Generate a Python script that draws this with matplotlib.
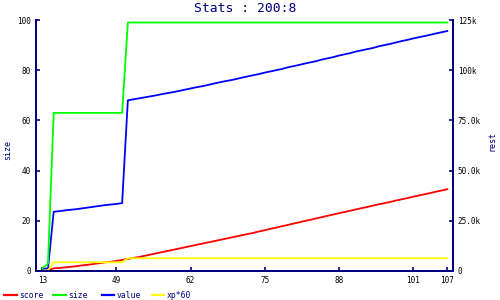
import numpy as np
import matplotlib
matplotlib.use("Agg")
import matplotlib.pyplot as plt
from matplotlib.lines import Line2D

title = "Stats : 200:8"
tick_pos = [0, 13, 26, 39, 52, 65, 71]
tick_labels = ["13", "49", "62", "75", "88", "101", "107"]

# size (left axis, 0..100)
size = [1, 3] + [63] * 13 + [99] * 57

# value (right axis, k)
value_k = [1.2, 1.2, 29.5, 29.8, 30.2, 30.5, 30.8, 31.2, 31.6, 32.0, 32.4, 32.8, 33.1, 33.4, 33.8,
           85.0, 85.5, 86.0, 86.5, 87.0, 87.5, 88.1, 88.6, 89.1, 89.7, 90.3, 90.9, 91.5, 92.0,
           92.6, 93.3, 93.9, 94.5, 95.0, 95.6, 96.3, 96.9, 97.5, 98.1, 98.8, 99.4, 100.0, 100.6,
           101.4, 102.0, 102.6, 103.3, 103.9, 104.5, 105.3, 105.9, 106.5, 107.3, 107.9, 108.5,
           109.3, 109.9, 110.5, 111.1, 111.9, 112.5, 113.1, 113.8, 114.5, 115.1, 115.8, 116.4,
           117.0, 117.6, 118.3, 118.9, 119.5]

# score (right axis, k)
score_k = [0.0, 0.3, 1.3, 1.5, 1.8, 2.1, 2.4, 2.8, 3.1, 3.5, 3.9, 4.3, 4.6, 5.0, 5.5, 6.0, 6.5, 7.0,
           7.6, 8.2, 8.8, 9.4, 10.0, 10.6, 11.2, 11.8, 12.4, 13.0, 13.6, 14.2, 14.8, 15.4, 16.0,
           16.6, 17.2, 17.8, 18.4, 19.0, 19.7, 20.3, 21.0, 21.6, 22.3, 22.9, 23.6, 24.2, 24.9,
           25.5, 26.2, 26.8, 27.5, 28.1, 28.8, 29.4, 30.0, 30.7, 31.3, 31.9, 32.6, 33.2, 33.8,
           34.4, 35.1, 35.7, 36.3, 37.0, 37.6, 38.2, 38.8, 39.5, 40.1, 40.7]

# xp*60 (right axis, k)
xp_k = [0.0, 0.3] + [4.35] * 13 + [6.35] * 57

left_ticks = [0, 20, 40, 60, 80, 100]
right_ticks_k = [0, 25, 50, 75, 100, 125]
right_tick_labels = ["0", "25.0k", "50.0k", "75.0k", "100k", "125k"]

navy = "#000080"
mono = "DejaVu Sans Mono"

fig = plt.figure(figsize=(5, 3), dpi=100)
ax = fig.add_axes([36/500, 29/300, 417/500, 251/300])
ax2 = ax.twinx()

x = np.arange(len(size))
lw = 1.3
ax2.plot(x, np.array(value_k) * 1000, color="#0000ff", lw=lw, zorder=2)
ax2.plot(x, np.array(score_k) * 1000, color="#ff0000", lw=lw, zorder=3)
ax2.plot(x, np.array(xp_k) * 1000, color="#ffff00", lw=lw, zorder=4)
ax.plot(x, size, color="#00ff00", lw=lw)
ax.set_zorder(ax2.get_zorder() + 1)
ax.patch.set_visible(False)

ax.set_xlim(-1.1, 72)
ax.set_ylim(0, 100)
ax2.set_ylim(0, 125000)

ax.set_xticks(tick_pos)
ax.set_xticklabels(tick_labels)
ax.set_yticks(left_ticks)
ax.set_yticklabels([str(t) for t in left_ticks])
ax2.set_yticks([t * 1000 for t in right_ticks_k])
ax2.set_yticklabels(right_tick_labels)

for a in (ax, ax2):
    for s in a.spines.values():
        s.set_color(navy)
        s.set_linewidth(1.3)
    a.spines["top"].set_visible(False)
    a.tick_params(direction="in", length=3, width=1.2, color=navy, labelsize=5.5,
                  labelcolor="black", pad=3.5)
    for lab in a.get_xticklabels() + a.get_yticklabels():
        lab.set_family(mono)

fig.text(0.49, 0.973, title, ha="center", va="center", color=navy, family=mono, fontsize=9.4)
fig.text(8/500, 1 - 150/300, "size", rotation=90, ha="center", va="center", color=navy,
         family=mono, fontsize=6)
fig.text(492/500, 1 - 141/300, "rest", rotation=90, ha="center", va="center", color=navy,
         family=mono, fontsize=6)

legend_items = [("score", "#ff0000"), ("size", "#00ff00"), ("value", "#0000ff"), ("xp*60", "#ffff00")]
starts = [4, 53, 101.5, 151.5]
ly = 1 - 295/300
for (name, col), sx in zip(legend_items, starts):
    fig.add_artist(Line2D([sx/500, (sx + 12.5)/500], [ly, ly], color=col, lw=1.6,
                          transform=fig.transFigure))
    fig.text((sx + 15.5)/500, ly, name, ha="left", va="center", color=navy, family=mono,
             fontsize=5.8)

fig.savefig("out.png", dpi=100)
